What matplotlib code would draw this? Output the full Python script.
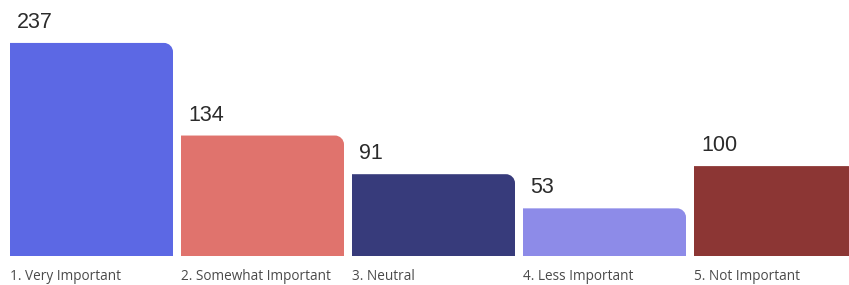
import matplotlib
matplotlib.use("Agg")
import matplotlib.pyplot as plt
from matplotlib.path import Path
from matplotlib.patches import PathPatch

categories = ["1. Very Important", "2. Somewhat Important", "3. Neutral",
              "4. Less Important", "5. Not Important"]
values = [237, 134, 91, 53, 100]
colors = ["#5c68e4", "#e0736d", "#373b7b", "#8d8be8", "#8c3634"]

W, H, DPI = 849, 285, 100
fig = plt.figure(figsize=(W / DPI, H / DPI), dpi=DPI)
ax = fig.add_axes([0, 0, 1, 1])

pitch_px = 171.0
left_px = 10.0
base_px = 29.0          # bar baseline from bottom of figure
ypx = 0.899             # pixels per value unit
width = 163.0 / pitch_px

ax.set_xlim(-left_px / pitch_px, (W - left_px) / pitch_px)
ax.set_ylim(-base_px / ypx, (H - base_px) / ypx)
ax.axis("off")

bars = ax.bar(range(len(values)), values, width=width, align="edge",
              color=colors, linewidth=0)

r_px = 9.0
k = 0.5523
for b, c in zip(bars, colors):
    x0, y0 = b.get_x(), b.get_y()
    x1, y1 = x0 + b.get_width(), y0 + b.get_height()
    rx, ry = r_px / pitch_px, r_px / ypx
    verts = [(x0, y0), (x0, y1), (x1 - rx, y1),
             (x1 - rx + k * rx, y1), (x1, y1 - ry + k * ry), (x1, y1 - ry),
             (x1, y0), (x0, y0)]
    codes = [Path.MOVETO, Path.LINETO, Path.LINETO,
             Path.CURVE4, Path.CURVE4, Path.CURVE4,
             Path.LINETO, Path.CLOSEPOLY]
    b.set_visible(False)
    ax.add_patch(PathPatch(Path(verts, codes), facecolor=c, edgecolor="none"))

for i, (cat, v) in enumerate(zip(categories, values)):
    ax.text(i + 7 / pitch_px, v + 10 / ypx, str(v), ha="left", va="bottom",
            fontsize=15.5, color="#2b2b2b", family="Liberation Sans")
    ax.text(i, -24 / ypx, cat, ha="left", va="baseline", fontsize=9.8,
            color="#4a4a4a", family="Open Sans")

fig.savefig("out.png", dpi=DPI)
